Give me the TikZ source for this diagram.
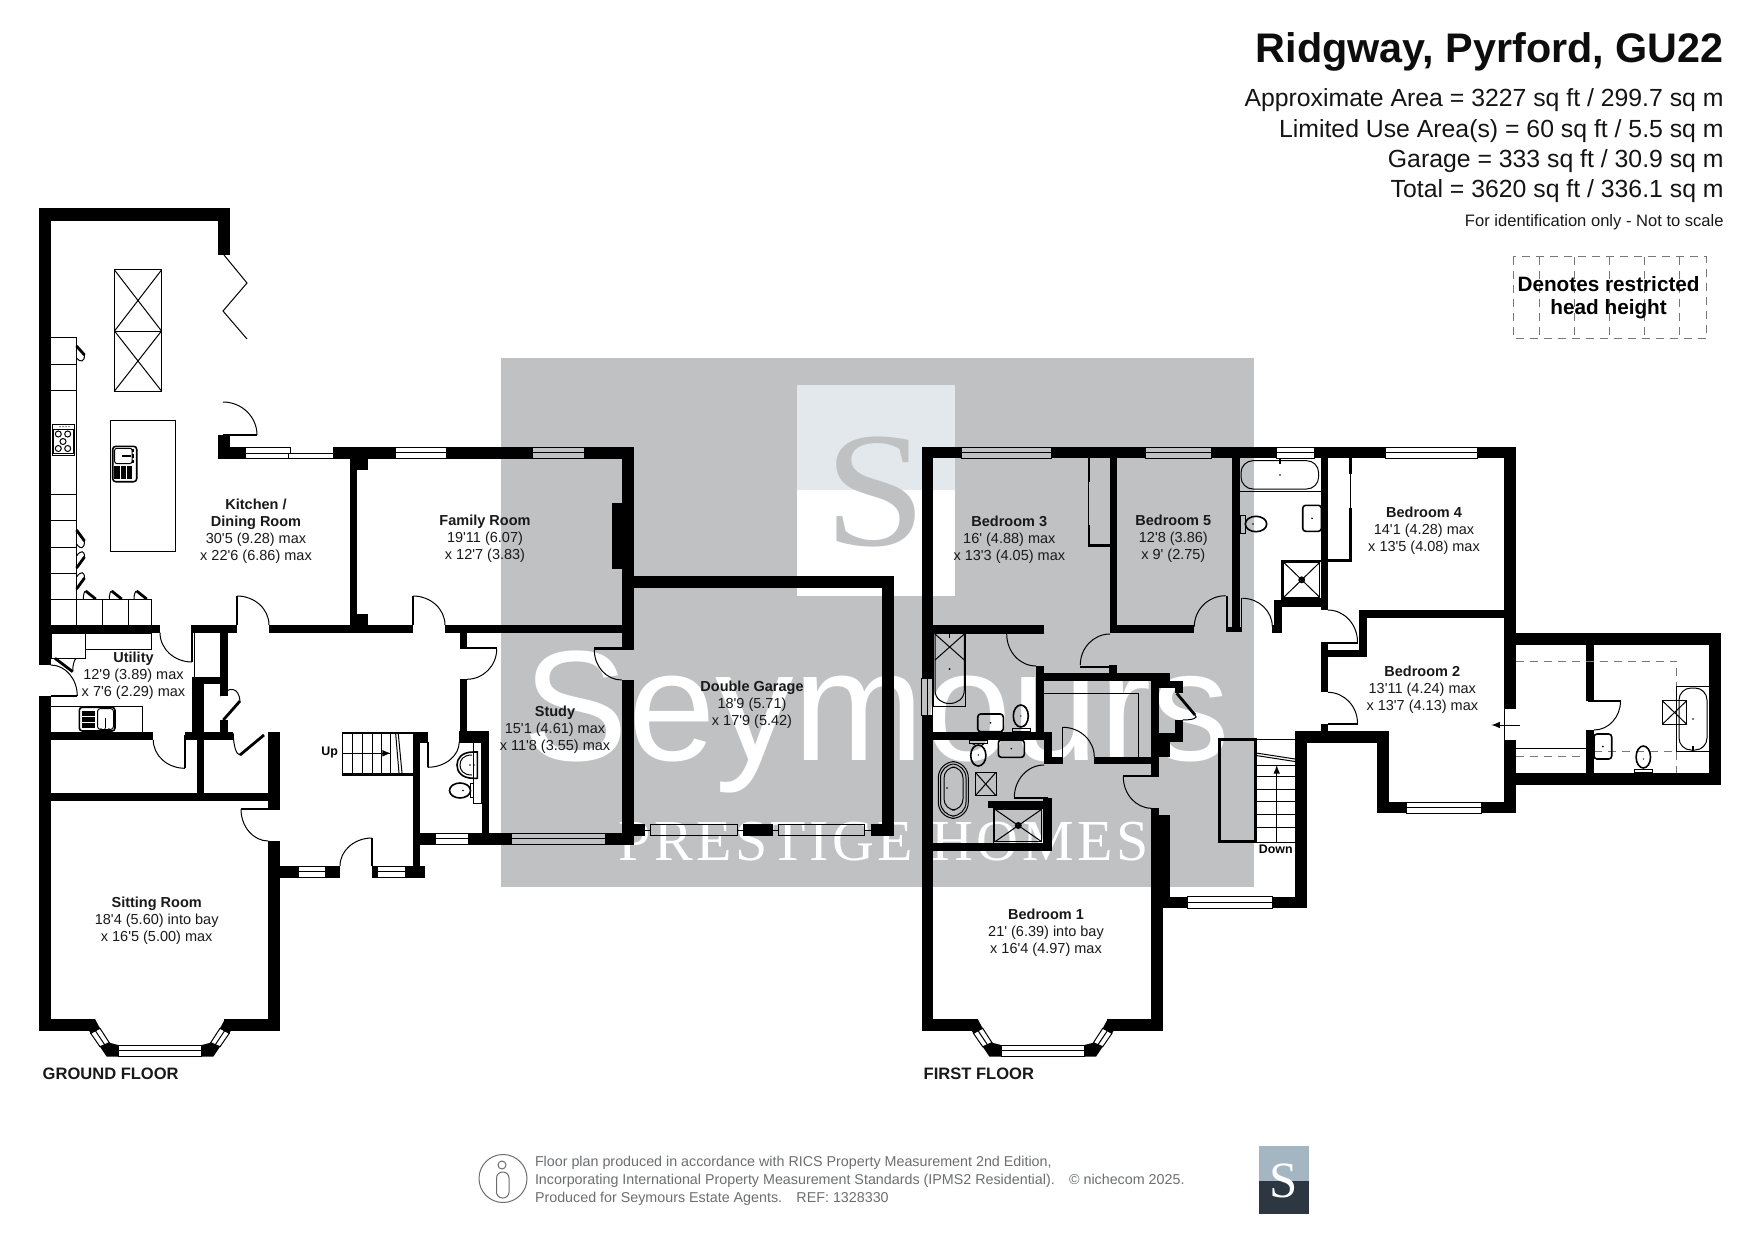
\documentclass[tikz,border=0pt]{standalone}
\usepackage{fontspec}
\usetikzlibrary{calc}
\newfontfamily\ar{Liberation Sans}
\newfontfamily\serf{Liberation Serif}
\newfontfamily\serfsp[LetterSpace=6]{Liberation Serif}
\definecolor{wmgrey}{HTML}{BFC1C3}
\definecolor{wmblue}{HTML}{E3E8EC}
\definecolor{lgblue}{HTML}{A3B6C2}
\definecolor{lgdark}{HTML}{2C3742}
\definecolor{foot}{HTML}{6D6E70}
\definecolor{dashgrey}{HTML}{777777}
\tikzset{
  fine/.style={line width=.5pt,draw=black},
  mid/.style={line width=.8pt,draw=black},
  heavy/.style={line width=1.4pt,draw=black},
  restrict/.style={line width=.5pt,draw=dashgrey,dash pattern=on 4pt off 3pt},
  room/.style={align=center,inner sep=0pt,text=black!90,font=\ar\fontsize{7.25}{8.5}\selectfont},
  small/.style={inner sep=0pt,text=black,font=\ar\bfseries\fontsize{6.2}{7}\selectfont},
  arealine/.style={anchor=base east,inner sep=0pt,text=black!92,font=\ar\fontsize{12.4}{14}\selectfont},
  footline/.style={anchor=base west,inner sep=0pt,text=foot,font=\ar\fontsize{7.15}{9}\selectfont},
  floorname/.style={anchor=base west,inner sep=0pt,text=black!90,font=\ar\bfseries\fontsize{8.27}{10}\selectfont}
}
\newcommand{\wl}[4]{\fill[black] (#1,#2) rectangle (#3,#4);}
\newcommand{\winH}[4]{\draw[fine] (#1,#2) rectangle (#3,#4); \draw[fine] (#1,{(#2+#4)/2}) -- (#3,{(#2+#4)/2});}
\newcommand{\winV}[4]{\draw[fine] (#1,#2) rectangle (#3,#4); \draw[fine] ({(#1+#3)/2},#2) -- ({(#1+#3)/2},#4);}
\newcommand{\dra}[6]{\pgfmathsetmacro\mykx{#3+#5-#1}\pgfmathsetmacro\myky{#4+#6-#2}%
  \draw[fine] (#3,#4) .. controls ($(#3,#4)!.5523!(\mykx,\myky)$) and ($(#5,#6)!.5523!(\mykx,\myky)$) .. (#5,#6);}
\newcommand{\xbox}[4]{\draw[fine] (#1,#2) rectangle (#3,#4); \draw[fine] (#1,#2) -- (#3,#4) (#1,#4) -- (#3,#2);}
\newcommand{\showertray}[4]{\draw[mid] (#1,#2) rectangle (#3,#4);
  \draw[fine] (#1+1.5,#2+1.5) rectangle (#3-1.5,#4-1.5);
  \draw[fine] (#1+1.5,#2+1.5) -- (#3-1.5,#4-1.5) (#1+1.5,#4-1.5) -- (#3-1.5,#2+1.5);
  \draw[mid] ({(#1+#3)/2},{(#2+#4)/2}) circle [radius=2.6];
  \draw[fine] ({(#1+#3)/2-2.6},{(#2+#4)/2}) -- ({(#1+#3)/2+2.6},{(#2+#4)/2}) ({(#1+#3)/2},{(#2+#4)/2-2.6}) -- ({(#1+#3)/2},{(#2+#4)/2+2.6});}
\newcommand{\basin}[4]{\draw[mid,rounded corners=1.5pt] (#1,#2) rectangle (#3,#4);
  \fill ({(#1+#3)/2},{(#2+#4)/2}) circle [radius=.9];}
\newcommand{\baypart}{%
  \fill[black] (-65,1019) -- (-60,1028.3) -- (-69.3,1033.3) -- (-71,1030.7) -- (-71,1019) -- cycle;
  \fill[black] (-60,1046.7) -- (-50.7,1042.7) -- (-41.7,1045) -- (-41.7,1056.7) -- (-53.3,1056.7) -- cycle;
  \draw[fine] (-69.3,1033.3) -- (-60,1028.3) -- (-50.7,1042.7) -- (-60,1046.7) -- cycle;
  \draw[fine] (-64.6,1030.8) -- (-55.3,1044.7);}
\newcommand{\bay}[1]{%
  \begin{scope}[shift={(#1,0)}]\baypart\end{scope}
  \begin{scope}[shift={(#1,0)},xscale=-1]\baypart\end{scope}
  \winH{#1-41.7}{1045}{#1+41.7}{1056.7}}
\begin{document}
\begin{tikzpicture}[x=.5pt,y=-.5pt,line join=miter]
\useasboundingbox (0,0) rectangle (1755,1241);
\fill[white] (0,0) rectangle (1755,1241);
% ---------- watermark
\fill[wmgrey] (501,358) rectangle (1254,887);
\fill[white] (797,490) rectangle (955,596);
\fill[wmblue] (797,385) rectangle (955,490);
\node[inner sep=0pt,anchor=base,text=wmgrey,xscale=1.12,font=\serf\fontsize{82}{84}\selectfont] (wmS) at (876,545) {S};
\node[inner sep=0pt,anchor=base west,text=white,font=\ar\fontsize{78.5}{80}\selectfont] (wmname) at (523,760) {Seymours};
\node[inner sep=0pt,anchor=base west,text=white,font=\serfsp\fontsize{29}{30}\selectfont] (wmprestige) at (618,860) {PRESTIGE HOMES};
% ---------- GROUND FLOOR walls
\wl{39}{208}{51}{665}
\wl{39}{208}{230}{221}
\wl{218}{208}{230}{255}
\draw[fine] (224,255) -- (247,283) -- (223,311) -- (247,339);
\wl{218}{435}{230}{458.7}
\wl{230}{447}{245}{458.7}
\wl{223}{434}{257}{436}
\dra{223}{435}{257}{435}{223}{402}
\draw[fine] (245,447) rectangle (290.5,453);
\draw[fine] (288,453) rectangle (333,458.7);
\draw[fine] (245,453) -- (245,458.7) -- (288,458.7);
\wl{333}{447.3}{395}{458.5}
\winH{395}{447.3}{446}{458.5}
\wl{446}{447.3}{532}{458.5}
\winH{532}{447.3}{584}{458.5}
\wl{584}{447.3}{634}{458.5}
\wl{621.7}{447.3}{634}{649}
\wl{612}{503}{622}{568.7}
\wl{350}{458}{357.3}{628}
\wl{350}{458}{368}{470}
\wl{350}{614}{368}{628}
\wl{51}{625}{160}{632.7}
\wl{192}{625}{237.3}{632.7}
\wl{269}{625}{413}{632.7}
\wl{445}{625}{622}{632.7}
% hall door family / kitchen
\wl{236.3}{596}{237.8}{625}
\dra{237}{625}{237}{596}{269}{625}
\wl{412.3}{596}{413.8}{625}
\dra{413}{625}{413}{596}{445}{625}
% utility door
\wl{191.3}{625}{193}{662}
\dra{192}{632.7}{160}{632.7}{192}{662}
\draw[fine] (194.3,632) -- (194.3,677);
\wl{220}{632}{227.5}{696}
\wl{192}{677}{220}{684}
\wl{192}{677}{204}{740}
\wl{185}{732.3}{233.3}{739.5}
\wl{220}{720}{227.7}{733}
\draw[heavy] (223.3,720) -- (240,701);
\dra{222}{720}{240}{701}{220}{696}
% utility
\wl{39}{696}{51}{1030.7}
\wl{51}{695}{77}{697.3}
\dra{50.7}{696}{50.7}{665}{77.3}{696}
\wl{51}{732.3}{153.3}{740}
\dra{185}{740}{153.3}{740}{185}{768.3}
\wl{184.3}{735}{186}{768.3}
\wl{51}{793.3}{268.3}{801}
\wl{196.7}{740}{204}{793.3}
\wl{268.3}{732.3}{280}{809.3}
\draw[heavy] (240,755) -- (264,735);
\dra{240}{733.3}{233.3}{733.3}{240}{755}
\wl{241}{808}{280}{809.5}
\dra{268.3}{809}{241}{809}{268.3}{841}
\wl{268.3}{841}{280}{1030.7}
\wl{39}{1019}{95}{1030.7}
\wl{224}{1019}{280}{1030.7}
\bay{160}
% entrance
\wl{280}{866}{298.3}{877.7}
\winH{298.3}{866}{325}{877.7}
\wl{325}{866}{340}{877.7}
\wl{371.3}{838}{372.8}{866}
\dra{372}{866}{372}{838}{340}{866}
\wl{372}{866}{377.7}{877.7}
\winH{377.7}{866}{405}{877.7}
\wl{405}{866}{425}{877.7}
\wl{413.3}{733}{420}{866}
\wl{420}{833.3}{435}{844.5}
\winH{435}{833.3}{468.5}{844.5}
\wl{468.5}{833.3}{511.7}{844.5}
\winH{511.7}{833.3}{605}{844.5}
\wl{605}{833.3}{634}{845}
% stairs up
\wl{342.3}{731.7}{413.3}{734}
\wl{342.3}{773.3}{413.3}{775.7}
\foreach \sx in {342.5,352,362,372,381,390.5} {\draw[fine] (\sx,733) -- (\sx,774);}
\draw[fine] (342.3,753.3) -- (390.5,753.3);
\draw[fine] (395.7,734) -- (399,773) (398.3,734) -- (402,773);
\draw[fine,-latex] (382,753.3) -- (391,753.3);
\wl{413.3}{731.7}{428.3}{742.7}
\wl{427.2}{742}{428.8}{767}
\dra{427.5}{741.7}{427.5}{767.3}{459.3}{741.7}
\wl{459}{731}{489}{742.7}
\wl{481.7}{731}{489}{833.3}
\wl{460}{679.3}{466.7}{731}
\wl{460}{632.7}{466.7}{648}
\wl{460}{647}{496.7}{649}
\dra{466.7}{649}{496.7}{649}{466.7}{679.3}
\wl{594.3}{647}{634}{650}
\dra{621.7}{650}{594.3}{650}{621.7}{680}
\wl{621.7}{680}{634}{845}
% cloakroom fittings
\draw[fine] (473.3,742.7) rectangle (481.7,803.3);
\draw[mid] (473.5,752) -- (477.3,752) -- (477.3,778.3) -- (473.5,778.3) .. controls (461,778.3) and (457,771) .. (457,765) .. controls (457,759) and (461,752) .. (473.5,752) -- cycle;
\draw[fine] (472,755) .. controls (463,755) and (460,760) .. (460,765) .. controls (460,770) and (463,775) .. (472,775);
\fill (470,765) circle [radius=.9] (474,765) circle [radius=.9];
\draw[mid] (460,790.5) ellipse [x radius=10.5,y radius=7.5];
\draw[fine] (470.5,783.5) rectangle (473.3,797.5);
\fill (463,790.5) circle [radius=.8];
% garage
\wl{634}{576}{894}{587.7}
\wl{882.3}{576}{894}{836}
\wl{634}{824}{645}{836}
\draw[fine] (645,830) -- (650.7,830);
\draw[fine] (650.7,824) rectangle (737.7,835.7);
\draw[fine] (737.7,830) -- (742.7,830);
\wl{742.7}{824}{772.7}{836}
\draw[fine] (772.7,830) -- (778.3,830);
\draw[fine] (778.3,824) rectangle (864.7,835.7);
\draw[fine] (864.7,830) -- (871,830);
\wl{871}{824}{882.3}{836}
% kitchen fittings
\xbox{114.5}{270}{161.5}{331}
\xbox{114.5}{331}{161.5}{391}
\draw[fine] (51,337) -- (76.5,337) -- (76.5,625);
\foreach \uy in {364,390,494,520,547,573,599} {\draw[fine] (51,\uy) -- (76.5,\uy);}
\draw[fine] (76.5,599) -- (151.3,599) -- (151.3,625);
\draw[fine] (102.5,599) -- (102.5,625) (128.3,599) -- (128.3,625);
\draw[heavy] (76.5,346) -- (84.5,355);
\dra{76.5}{346}{84.5}{355}{76.5}{358}
\draw[heavy] (76.5,530) -- (84.5,541);
\dra{76.5}{530}{84.5}{541}{76.5}{544}
\draw[heavy] (76.5,568) -- (84.5,557);
\dra{76.5}{568}{76.5}{556}{84.5}{557}
\draw[heavy] (76.5,589) -- (84.5,578);
\dra{76.5}{589}{76.5}{577}{84.5}{578}
\draw[heavy] (85.7,591) -- (95.7,599);
\dra{85.7}{599}{85.7}{591}{83.3}{599}
\draw[heavy] (111.7,591) -- (121.7,599);
\dra{111.7}{599}{111.7}{591}{109.3}{599}
\draw[heavy] (136.7,591) -- (146.7,599);
\dra{136.7}{599}{136.7}{591}{134}{599}
% hob
\draw[mid] (52.3,424.3) rectangle (74.3,455.3);
\draw[fine] (53.5,429) rectangle (73.3,453.5);
\foreach \bx/\by in {58.3/434,67.7/434,63/441.5,58.3/448.5,67.7/448.5} {\draw[fine] (\bx,\by) circle [radius=3];}
\foreach \bx in {60,63,66,69} {\fill (\bx,426.7) circle [radius=.7];}
% island + sink
\draw[fine] (110.3,420.3) rectangle (175.7,551.3);
\draw[mid,rounded corners=1.5pt] (112.7,446.3) rectangle (136.7,481.7);
\draw[fine,rounded corners=1pt] (114.7,448.3) rectangle (132,463.5);
\wl{114.3}{466}{120}{479.3}
\wl{121}{466}{126}{479.3}
\wl{127}{466}{131.5}{479.3}
\wl{122}{455.3}{131}{456.5}
\wl{132.3}{449}{133.7}{452}
\wl{132.3}{454}{133.7}{458}
\wl{132.3}{460}{133.7}{463}
% utility fittings
\draw[fine] (51,633) rectangle (85.7,658.3);
\draw[fine] (85.7,633) rectangle (151.3,649.3);
\draw[heavy] (55,658.3) -- (72.7,671.7);
\dra{76.7}{671.7}{72.7}{671.7}{76.7}{658.3}
\draw[fine] (51,706.3) -- (142.7,706.3) -- (142.7,732.3);
\draw[mid,rounded corners=1.5pt] (79.3,707.3) rectangle (115,731);
\wl{81.7}{710.5}{95}{715.5}
\wl{81.7}{717}{95}{721.5}
\wl{81.7}{723}{95}{728}
\draw[fine,rounded corners=1.5pt] (97.5,708.5) rectangle (113.5,729.5);
\wl{104.5}{718}{105.5}{728}
\fill (101,729) circle [radius=.9] (105,729) circle [radius=.9] (109,729) circle [radius=.9];
% ---------- FIRST FLOOR walls
\wl{921.7}{447.3}{932.7}{678}
\wl{921.7}{715}{932.7}{1030.7}
\winV{921.7}{678}{932.7}{715}
\wl{921.7}{447.3}{961.7}{458.3}
\winH{961.7}{447.3}{1051.3}{458.3}
\wl{1051.3}{447.3}{1145.7}{458.3}
\winH{1145.7}{447.3}{1211.3}{458.3}
\wl{1211.3}{447.3}{1276.7}{458.3}
\winH{1276.7}{447.3}{1314}{458.3}
\wl{1314}{447.3}{1385.1}{458.3}
\winH{1385.1}{447.3}{1477.2}{458.3}
\wl{1477.2}{447.3}{1515.8}{458.3}
\wl{1504.4}{447.3}{1515.8}{709}
\wl{1504.4}{740}{1515.8}{813.3}
\draw[fine] (1504.8,709) -- (1504.8,740);
\draw[fine,-latex] (1519.6,725) -- (1491.3,725);
% bed 3 / 5
\wl{1110}{458}{1117.3}{632.7}
\wl{1087.7}{458}{1090}{546.7}
\wl{1087.7}{544}{1110}{546.7}
\fill[wmgrey] (1088.8,482) rectangle (1090.1,525);
\wl{1110.7}{625}{1194.3}{632.7}
\wl{1232.3}{458}{1240}{632.3}
\wl{1225.7}{626.7}{1242.3}{632.3}
\wl{1225.7}{596}{1227.5}{632}
\wl{1240.5}{598.3}{1242.3}{632}
\dra{1225.7}{626.7}{1194.3}{626.7}{1225.7}{595.7}
\dra{1242.3}{626.7}{1242.3}{598.3}{1272.3}{626.7}
\wl{932.7}{625}{1044}{634}
\wl{1036}{666}{1044}{733}
\dra{1036}{634}{1006.7}{634}{1036}{666}
\wl{1080.3}{665.5}{1110}{667.5}
\wl{1109.3}{665.3}{1116.7}{673.3}
\dra{1110}{665}{1080.3}{665}{1110}{634}
\wl{1036}{673.3}{1170}{681}
\draw[fine] (1044,693.3) -- (1138.7,693.3) -- (1138.7,756.7);
\wl{1151.3}{673.3}{1159.3}{776.7}
\wl{1151.3}{681}{1182.7}{688.3}
\wl{1175}{681}{1182.7}{693.3}
\draw[heavy] (1176.7,693.3) -- (1195,715);
\dra{1176}{715}{1195}{715}{1182.7}{720}
\wl{1175}{720}{1182.7}{741.7}
\wl{1159}{733.3}{1182.7}{741.7}
\wl{1151.3}{741.7}{1170}{756.7}
\wl{1123.3}{775}{1159.3}{777}
\dra{1151.7}{776.7}{1123.3}{776.7}{1151.7}{808.3}
\wl{1094.3}{756.7}{1151.3}{764.3}
\dra{1062.7}{757}{1094.3}{757}{1062.7}{727.3}
\wl{1061.5}{727.3}{1063.2}{758}
\wl{1044}{756.7}{1063}{764.3}
\wl{1044}{732.7}{1051.7}{764.3}
\wl{932.7}{731.7}{1051.7}{740}
\dra{1044}{797.5}{1014.3}{797.5}{1044}{765}
\wl{1014}{797}{1048.3}{799}
\wl{987.7}{800.7}{1051.7}{807.7}
\wl{1043.3}{798}{1051.7}{850.7}
\wl{932.7}{843.3}{1051.7}{850.7}
\wl{1151.3}{808.3}{1159.3}{1030.7}
\wl{1159}{815}{1170}{908.3}
\wl{1159}{896.7}{1187.7}{908.3}
\wl{1159}{908}{1162.7}{1030.7}
\winH{1187.7}{896.7}{1272}{908.3}
\wl{1272}{896.7}{1306.7}{908.3}
\wl{1295}{731}{1306.7}{908.3}
\wl{921.7}{1019}{978.3}{1030.7}
\wl{1106.7}{1019}{1162.7}{1030.7}
\bay{1042.7}
% bed 2 & 4
\wl{1295.6}{731}{1388.7}{742.7}
\wl{1377}{731}{1388.7}{813.3}
\wl{1377}{802.3}{1406}{813.3}
\winH{1406}{802.3}{1481.4}{813.3}
\wl{1481.4}{802.3}{1515.8}{813.3}
\wl{1359.3}{610.3}{1504.4}{618}
\wl{1359.3}{610.3}{1367}{657.3}
\wl{1321.4}{650}{1367}{657.3}
\wl{1321.4}{643}{1327.8}{692}
\wl{1321.4}{642}{1357.5}{643.5}
\dra{1327.8}{642}{1357.5}{642}{1327.8}{610}
\wl{1327.8}{723.3}{1357.5}{725.3}
\dra{1327.8}{723.3}{1327.8}{692.3}{1357.5}{723.3}
\wl{1321.4}{723.5}{1327.8}{731}
\wl{1321.4}{458}{1327.8}{610}
\wl{1327.8}{559.3}{1351.5}{561.7}
\wl{1349.4}{458}{1351.5}{474}
\wl{1349.4}{508}{1351.5}{561.7}
\draw[fine] (1350.8,474) -- (1350.8,508);
\wl{1274.3}{600}{1327.8}{606.7}
\wl{1274.3}{600}{1282}{632.7}
\wl{1272.3}{625}{1282}{632.7}
% annexe
\wl{1515.8}{632.7}{1721}{645}
\wl{1709}{632.7}{1721}{784.7}
\wl{1515.8}{772.7}{1721}{784.7}
\wl{1585.8}{645}{1594}{701}
\wl{1585.8}{730}{1594}{772.7}
\wl{1587.6}{700}{1620.5}{701.5}
\dra{1594}{701}{1620.5}{701}{1594}{730}
\wl{1515.8}{747.5}{1586}{749.3}
\draw[restrict] (1515.8,661) -- (1676.8,661) -- (1676.8,772.7);
\draw[restrict] (1515.8,756.7) -- (1585.8,756.7);
\draw[restrict] (1594,751.7) -- (1676.8,751.7);
\draw[fine] (1676.8,686.7) rectangle (1709,751.7);
\draw[fine,rounded corners=6pt] (1679,688) rectangle (1707,750);
\fill (1693,719) circle [radius=.9];
\wl{1692.3}{746}{1693.7}{751}
\xbox{1662.3}{700.7}{1686.7}{724.3}
\basin{1594}{734}{1611.7}{759}
\draw[mid] (1643.3,757) ellipse [x radius=7.2,y radius=11];
\draw[fine] (1634.7,769.3) rectangle (1652.4,772.7);
\fill (1643.3,759) circle [radius=.7];
% family bathroom fittings
\draw[fine,rounded corners=6pt] (1241,460.7) rectangle (1318.6,489);
\fill (1280,475) circle [radius=.9];
\wl{1279.3}{459}{1280.7}{464}
\draw[fine] (1240,491.3) -- (1321.4,491.3);
\draw[mid] (1256,524) ellipse [x radius=10.7,y radius=7.7];
\draw[fine] (1240,515) rectangle (1245,533);
\fill (1253,524) circle [radius=.8];
\basin{1302.7}{505.3}{1321.4}{531.3}
\showertray{1282}{560.7}{1321.4}{599}
% bed 3 en suite fittings
\draw[fine] (933.3,634) -- (933.3,706.7) -- (965.7,706.7) -- (965.7,634);
\draw[fine] (935,634) -- (935,690) .. controls (935,699) and (942,703.5) .. (949.5,703.5) .. controls (957,703.5) and (964.3,699) .. (964.3,690) -- (964.3,634);
\draw[fine] (935,634) -- (964.3,660) (964.3,634) -- (935,660);
\fill (949.5,669) circle [radius=1];
\wl{948.8}{634}{950.2}{638}
\basin{977.7}{714}{1003.3}{731.7}
\draw[mid] (1020.8,716) ellipse [x radius=7.5,y radius=11];
\draw[fine] (1012,728) rectangle (1030,731.7);
\fill (1020.8,716) circle [radius=.7];
% en suite fittings
\draw[mid] (978.3,755.5) ellipse [x radius=7.6,y radius=10.5];
\draw[fine] (969.5,740) rectangle (987,743.3);
\draw[fine] (972,743.3) -- (975,745) (984.5,743.3) -- (982,745);
\fill (978.3,755) circle [radius=.8];
\basin{998.3}{740}{1024.3}{757.3}
\draw[fine,rounded corners=8pt] (938.3,761.7) rectangle (968.3,818.3);
\draw[fine,rounded corners=7pt] (940.5,764) rectangle (966,816);
\draw[fine,rounded corners=5.5pt] (944,767) rectangle (963,810);
\fill (947,788) circle [radius=.9];
\xbox{975.3}{772.3}{996}{795.7}
\showertray{993.3}{807.7}{1043.3}{843.3}
% stairs down
\draw[line width=1.6pt] (1219.3,739.3) rectangle (1255.7,841.7);
\draw[fine] (1255.7,739) -- (1295,739);
\draw[fine] (1256,753) -- (1295,759) (1256,755.5) -- (1295,761.5);
\foreach \ty in {765,776.7,789,801.7,814,827,842.7} {\draw[fine] (1256.7,\ty) -- (1295,\ty);}
\draw[fine] (1276.7,842.7) -- (1276.7,768);
\draw[fine,-latex] (1276.7,772) -- (1276.7,765);
% ---------- labels
\node[room] (kitchen) at (256,531.7) {\textbf{Kitchen /}\\\textbf{Dining Room}\\30'5 (9.28) max\\x 22'6 (6.86) max};
\node[room] (family) at (485,539) {\textbf{Family Room}\\19'11 (6.07)\\x 12'7 (3.83)};
\node[room] (utility) at (133.5,676) {\textbf{Utility}\\12'9 (3.89) max\\x 7'6 (2.29) max};
\node[room] (sitting) at (156.7,920.3) {\textbf{Sitting Room}\\18'4 (5.60) into bay\\x 16'5 (5.00) max};
\node[room] (study) at (555,729.5) {\textbf{Study}\\15'1 (4.61) max\\x 11'8 (3.55) max};
\node[room] (garage) at (752,704.5) {\textbf{Double Garage}\\18'9 (5.71)\\x 17'9 (5.42)};
\node[room] (bedthree) at (1009.3,540) {\textbf{Bedroom 3}\\16' (4.88) max\\x 13'3 (4.05) max};
\node[room] (bedfive) at (1173.3,539) {\textbf{Bedroom 5}\\12'8 (3.86)\\x 9' (2.75)};
\node[room] (bedfour) at (1424,531) {\textbf{Bedroom 4}\\14'1 (4.28) max\\x 13'5 (4.08) max};
\node[room] (bedtwo) at (1422.3,690) {\textbf{Bedroom 2}\\13'11 (4.24) max\\x 13'7 (4.13) max};
\node[room] (bedone) at (1046,932.5) {\textbf{Bedroom 1}\\21' (6.39) into bay\\x 16'4 (4.97) max};
\node[small] (upl) at (329.7,752.7) {Up};
\node[small] (downl) at (1275.7,849.7) {Down};
\node[floorname] (gf) at (42.3,1079) {GROUND FLOOR};
\node[floorname] (ff) at (923.3,1079) {FIRST FLOOR};
% ---------- header
\node[inner sep=0pt,anchor=base east,text=black!95,font=\ar\bfseries\fontsize{20.67}{24}\selectfont] (title) at (1724,62.7) {Ridgway, Pyrford, GU22};
\node[arealine] (a1) at (1724,106.7) {Approximate Area = 3227 sq ft / 299.7 sq m};
\node[arealine] (a2) at (1724,137.3) {Limited Use Area(s) = 60 sq ft / 5.5 sq m};
\node[arealine] (a3) at (1724,167.3) {Garage = 333 sq ft / 30.9 sq m};
\node[arealine] (a4) at (1724,197.7) {Total = 3620 sq ft / 336.1 sq m};
\node[inner sep=0pt,anchor=base east,text=black!90,font=\ar\fontsize{8.28}{10}\selectfont] (idonly) at (1724,226.7) {For identification only - Not to scale};
% restricted key
\draw[restrict] (1513.3,256.7) rectangle (1706.2,338.3);
\foreach \kx in {1539.8,1574.5,1609.6,1644.2,1679.6} {\draw[restrict] (\kx,256.7) -- (\kx,338.3);}
\node[inner sep=0pt,align=center,anchor=center,text=black,font=\ar\bfseries\fontsize{10.37}{11.65}\selectfont] (keytext) at (1608.6,297.5) {Denotes restricted\\head height};
% ---------- footer
\draw[line width=.5pt,draw=foot] (503,1178.5) circle [radius=24];
\draw[line width=.5pt,draw=foot] (502,1165) circle [radius=4];
\draw[line width=.5pt,draw=foot,rounded corners=3pt] (496.5,1172) rectangle (509,1198);
\node[footline] (f1) at (534.6,1166.5) {Floor plan produced in accordance with RICS Property Measurement 2nd Edition,};
\node[footline] (f2) at (534.6,1184.5) {Incorporating International Property Measurement Standards (IPMS2 Residential).\quad © nichecom 2025.};
\node[footline] (f3) at (534.6,1202.5) {Produced for Seymours Estate Agents.\quad REF: 1328330};
\fill[lgblue] (1259,1146) rectangle (1309,1180.7);
\fill[lgdark] (1259,1180.7) rectangle (1309,1214);
\node[inner sep=0pt,anchor=base,text=white,font=\serf\fontsize{25.4}{27}\selectfont] (lgS) at (1284,1197.5) {S};
\end{tikzpicture}
\end{document}
